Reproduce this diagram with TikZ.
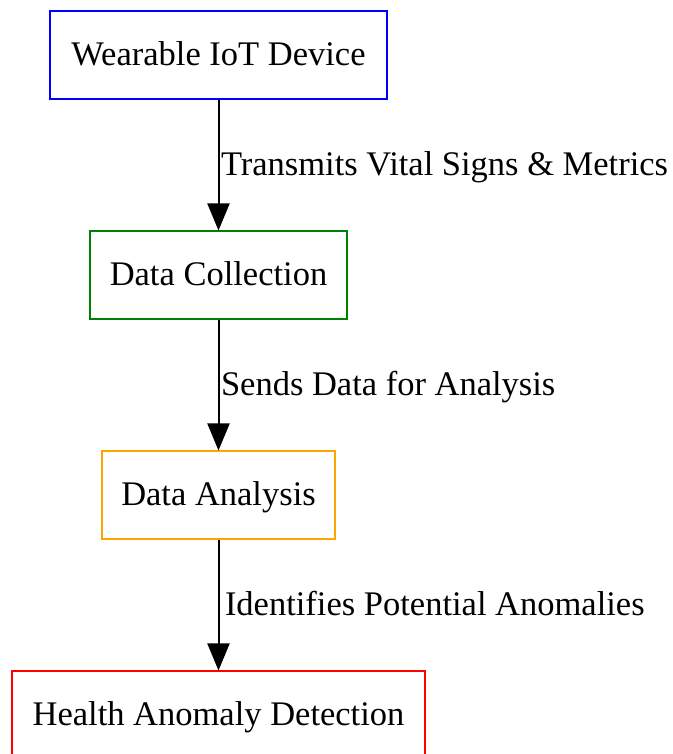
\documentclass[tikz,border=0pt]{standalone}
\usepackage{fontspec}
\setmainfont{Liberation Serif}
\usetikzlibrary{arrows.meta}
\tikzset{
  stage/.style={draw, line width=2pt, rectangle, minimum height=88pt,
    inner sep=0pt, font=\fontsize{34.5pt}{40pt}\selectfont,
    text height=21pt, text depth=0pt},
  flow/.style={line width=2pt, -{Triangle[length=27pt,width=22pt]}},
  note/.style={inner sep=0pt, font=\fontsize{34.5pt}{40pt}\selectfont,
    text height=20pt, text depth=0pt}
}
\begin{document}
\begin{tikzpicture}[x=1pt,y=1pt]
  \useasboundingbox (0,0) rectangle (672,754);
  \fill[white] (0,0) rectangle (672,754);
  % pipeline stages, top to bottom
  \node[stage, draw={rgb,255:red,0;green,0;blue,255}, minimum width=337pt] (dev) at (218.5,699) {Wearable IoT Device};
  \node[stage, draw={rgb,255:red,0;green,128;blue,0}, minimum width=257pt] (col) at (218.5,478.5) {Data Collection};
  \node[stage, draw={rgb,255:red,255;green,165;blue,0}, minimum width=233pt] (ana) at (218.5,258.5) {Data Analysis};
  \node[stage, draw={rgb,255:red,255;green,0;blue,0}, minimum width=413pt] (det) at (218.5,38.5) {Health Anomaly Detection};
  % connectors with their labels
  \draw[flow] (dev) -- node[note, anchor=west, xshift=1.5pt] (l1) {Transmits Vital Signs \& Metrics} (col);
  \draw[flow] (col) -- node[note, anchor=west, xshift=1.5pt] (l2) {Sends Data for Analysis} (ana);
  \draw[flow] (ana) -- node[note, anchor=west, xshift=5.5pt] (l3) {Identifies Potential Anomalies} (det);
\end{tikzpicture}
\end{document}
